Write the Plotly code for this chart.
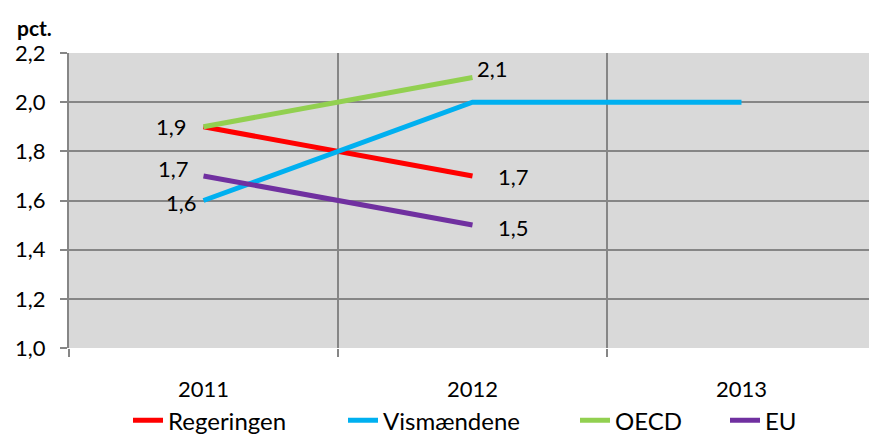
import plotly.graph_objects as go

categories = ["2011", "2012", "2013"]
regeringen = [1.9, 1.7, None]
vismaendene = [1.6, 2.0, 2.0]
oecd = [1.9, 2.1, None]
eu = [1.7, 1.5, None]

series_names = ["Regeringen", "Vismændene", "OECD", "EU"]
series_values = [regeringen, vismaendene, oecd, eu]
colors = ["#FF0000", "#00B0F0", "#92D050", "#7030A0"]
legend_x = [0.07375, 0.3425, 0.6325, 0.82]

# data labels: (series index, category index, side, xshift, yshift)
labels = [
    (0, 1, "left", 23, -1),
    (1, 0, "right", -5, -2),
    (2, 0, "right", -15, 0),
    (2, 1, "left", 2, 9),
    (3, 0, "right", -13, 7),
    (3, 1, "left", 23, -2),
]

y_ticks = [1.0, 1.2, 1.4, 1.6, 1.8, 2.0, 2.2]

FONT = "Lato, 'Open Sans', sans-serif"
FS = 22

xs = list(range(len(categories)))
fig = go.Figure()
legend_keys = ["legend", "legend2", "legend3", "legend4"]
for name, vals, col, lk in zip(series_names, series_values, colors, legend_keys):
    fig.add_trace(go.Scatter(
        x=xs, y=vals, name=name, mode="lines",
        line=dict(color=col, width=5), legend=lk,
    ))

annotations = []
for si, ci, side, dx, dy in labels:
    v = series_values[si][ci]
    annotations.append(dict(
        x=xs[ci], y=v, xref="x", yref="y",
        text=f"{v:.1f}".replace(".", ","),
        showarrow=False, xanchor=side, yanchor="middle",
        xshift=dx, yshift=dy,
        font=dict(family=FONT, size=FS, color="#000000"),
    ))
annotations.append(dict(
    text="<b>pct.</b>", xref="paper", yref="paper",
    x=-0.0675, y=1.085, xanchor="left", yanchor="middle",
    showarrow=False, font=dict(family=FONT, size=21, color="#000000"),
))

fig.update_layout(
    width=869, height=438,
    margin=dict(l=69, r=0, t=53, b=90, autoexpand=False),
    paper_bgcolor="white",
    plot_bgcolor="#D9D9D9",
    separators=",.",
    font=dict(family=FONT, size=FS, color="#000000"),
    showlegend=True,
    annotations=annotations,
)
for lk, lx in zip(legend_keys, legend_x):
    fig.update_layout({lk: dict(orientation="h", x=lx, xanchor="left", y=-0.17, yanchor="top",
                                font=dict(size=24), bgcolor="rgba(0,0,0,0)")})

fig.update_xaxes(
    range=[-0.5, 2.474],
    tickvals=xs, ticktext=categories,
    showgrid=False, ticks="", ticklabelstandoff=26,
    showline=False, zeroline=False, automargin=False,
    minor=dict(tickvals=[-0.5, 0.5, 1.5], showgrid=True, gridcolor="#868686", gridwidth=2,
               ticks="outside", ticklen=8, tickcolor="#868686", tickwidth=2),
    tickfont=dict(size=FS),
)
fig.update_yaxes(
    range=[1.0, 2.2],
    tickvals=y_ticks, tickformat=".1f",
    showgrid=True, gridcolor="#868686", gridwidth=2,
    ticks="outside", ticklen=7, tickcolor="#868686", tickwidth=2,
    ticklabelstandoff=10,
    showline=True, linecolor="#868686", linewidth=2,
    zeroline=False, automargin=False,
    tickfont=dict(size=FS),
)

fig.write_html(
    "out.html",
    config={"displayModeBar": False},
    post_script=(
        "document.body.style.margin='0';"
        "document.body.style.overflow='hidden';"
        "document.documentElement.style.overflow='hidden';"
    ),
)
